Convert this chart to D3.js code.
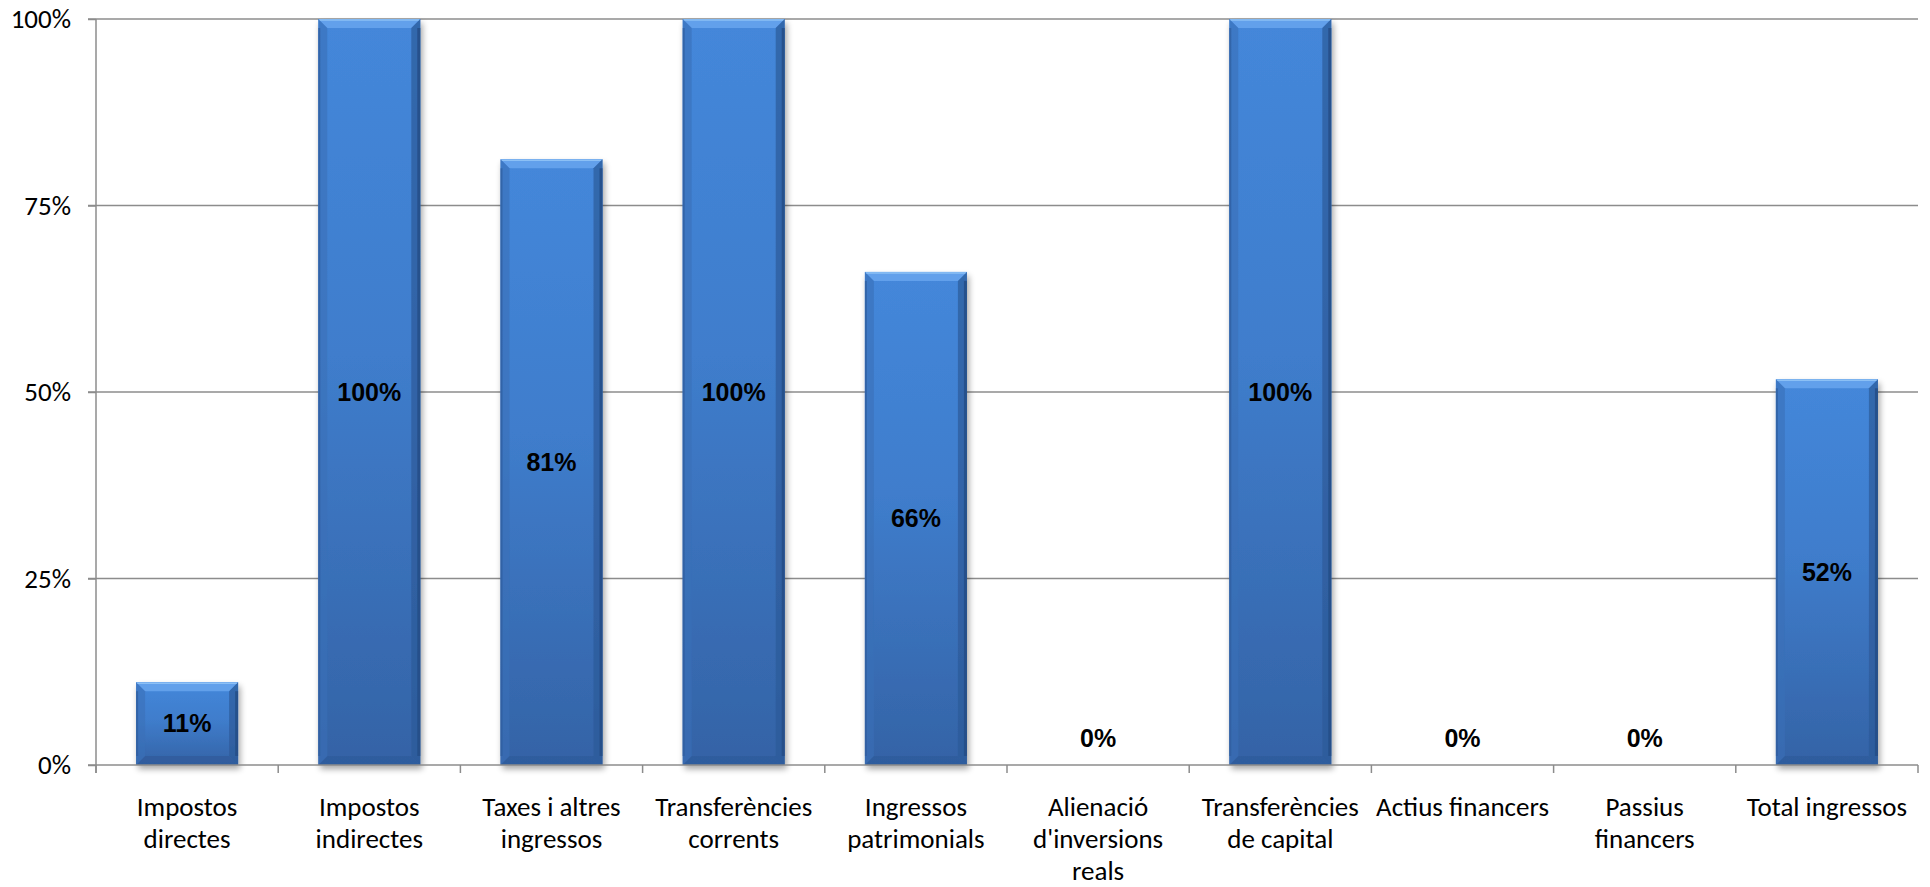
<!DOCTYPE html>
<html><head><meta charset="utf-8">
<script src="https://cdn.jsdelivr.net/npm/d3@7"></script>
<style>
html,body{margin:0;padding:0;background:#fff;}
svg{display:block;}
</style></head>
<body>
<svg id="chart" width="1930" height="887"></svg>
<script>
const categories = [
  ["Impostos","directes"],
  ["Impostos","indirectes"],
  ["Taxes i altres","ingressos"],
  ["Transferències","corrents"],
  ["Ingressos","patrimonials"],
  ["Alienació","d'inversions","reals"],
  ["Transferències","de capital"],
  ["Actius financers"],
  ["Passius","financers"],
  ["Total ingressos"]
];
const values = [0.111, 1.0, 0.812, 1.0, 0.661, 0, 1.0, 0, 0, 0.517];
const yTicks = [0, 0.25, 0.5, 0.75, 1.0];

const svg = d3.select("#chart");
const margin = {left: 96, right: 12, top: 19, bottom: 122};
const W = 1930, H = 887;
const x0 = margin.left, x1 = W - margin.right, yTop = margin.top, yBot = H - margin.bottom;

const catKeys = categories.map((c,i)=>i);
const x = d3.scaleBand().domain(catKeys).range([x0, x1]).paddingInner(0.44).paddingOuter(0.22);
const y = d3.scaleLinear().domain([0,1]).range([yBot, yTop]);

const defs = svg.append("defs");
const g1 = defs.append("linearGradient").attr("id","barGrad").attr("x1",0).attr("y1",0).attr("x2",0).attr("y2",1);
g1.append("stop").attr("offset","0%").attr("stop-color","#4487da");
g1.append("stop").attr("offset","45%").attr("stop-color","#3f7dcc");
g1.append("stop").attr("offset","100%").attr("stop-color","#3463a6");
const sh = defs.append("filter").attr("id","shadow").attr("x","-20%").attr("y","-10%").attr("width","140%").attr("height","130%");
sh.append("feGaussianBlur").attr("in","SourceAlpha").attr("stdDeviation",3).attr("result","b");
sh.append("feOffset").attr("in","b").attr("dx",2).attr("dy",4).attr("result","o");
sh.append("feComponentTransfer").attr("in","o").attr("result","o2").append("feFuncA").attr("type","linear").attr("slope",0.35);
const mg = sh.append("feMerge");
mg.append("feMergeNode").attr("in","o2");
mg.append("feMergeNode").attr("in","SourceGraphic");

// gridlines
const grid = svg.append("g");
grid.selectAll("line").data(yTicks.filter(d=>d>0)).join("line")
  .attr("x1", x0 - 8).attr("x2", x1)
  .attr("y1", d=>y(d)).attr("y2", d=>y(d))
  .attr("stroke","#8c8c8c").attr("stroke-width",1.5);

// y axis
const yAxis = d3.axisLeft(y).tickValues(yTicks).tickFormat(d3.format(".0%")).tickSize(8).tickPadding(17);
const ya = svg.append("g").attr("transform",`translate(${x0},0)`).call(yAxis);
ya.select(".domain").remove();
ya.selectAll(".tick line").attr("stroke","#8c8c8c").attr("stroke-width",1.5);
ya.selectAll(".tick text").attr("font-family","Carlito, Calibri, Lato, sans-serif").attr("font-size",27).attr("fill","#000");

// bars
const bev = 9, side = 3;
const bars = svg.append("g");
values.forEach((v,i)=>{
  if (v <= 0) return;
  const bx = x(i), bw = x.bandwidth(), by = y(v), bh = y(0) - y(v);
  const gb = bars.append("g").attr("filter","url(#shadow)");
  gb.append("rect").attr("x",bx).attr("y",by).attr("width",bw).attr("height",bh).attr("fill","url(#barGrad)");
  const tb = Math.min(bev, bh/2);
  gb.append("polygon").attr("points",[[bx,by],[bx+bw,by],[bx+bw-tb,by+tb],[bx+tb,by+tb]].map(p=>p.join(",")).join(" "))
    .attr("fill","#66a3ec").attr("opacity",0.9);
  gb.append("line").attr("x1",bx+1).attr("x2",bx+bw-1).attr("y1",by+1).attr("y2",by+1).attr("stroke","#8cc0f5").attr("stroke-width",1.5);
  gb.append("polygon").attr("points",[[bx,by+bh],[bx+bw,by+bh],[bx+bw-tb,by+bh-tb],[bx+tb,by+bh-tb]].map(p=>p.join(",")).join(" "))
    .attr("fill","#2f5c9c").attr("opacity",0.85);
  gb.append("polygon").attr("points",[[bx,by],[bx+tb,by+tb],[bx+tb,by+bh-tb],[bx,by+bh]].map(p=>p.join(",")).join(" "))
    .attr("fill","#3a70b8").attr("opacity",0.6);
  gb.append("polygon").attr("points",[[bx+bw,by],[bx+bw-tb,by+tb],[bx+bw-tb,by+bh-tb],[bx+bw,by+bh]].map(p=>p.join(",")).join(" "))
    .attr("fill","#2c5a98").attr("opacity",0.7);
  gb.append("rect").attr("x",bx+bw-side).attr("y",by+tb).attr("width",side).attr("height",bh-2*tb).attr("fill","#234c85").attr("opacity",0.8);
  gb.append("rect").attr("x",bx).attr("y",by+tb).attr("width",2).attr("height",bh-2*tb).attr("fill","#2d5c9c").attr("opacity",0.7);
});

// x axis
svg.append("line").attr("x1",x0-8).attr("x2",x1).attr("y1",y(0)).attr("y2",y(0)).attr("stroke","#8c8c8c").attr("stroke-width",1.5);
svg.append("line").attr("x1",x0).attr("x2",x0).attr("y1",yTop).attr("y2",y(0)+8).attr("stroke","#8c8c8c").attr("stroke-width",1.5);
const step = x.step();
const bounds = d3.range(categories.length+1).map(k=>x0 + k*step);
svg.append("g").selectAll("line").data(bounds).join("line")
  .attr("x1",d=>d).attr("x2",d=>d).attr("y1",y(0)).attr("y2",y(0)+8)
  .attr("stroke","#8c8c8c").attr("stroke-width",1.5);

// category labels
const cl = svg.append("g").attr("font-family","Carlito, Calibri, Lato, sans-serif").attr("font-size",27).attr("fill","#000").attr("text-anchor","middle");
categories.forEach((lines,i)=>{
  const cx = x(i) + x.bandwidth()/2;
  const t = cl.append("text").attr("x",cx).attr("y",y(0)+51);
  lines.forEach((ln,k)=>t.append("tspan").attr("x",cx).attr("dy",k===0?0:32).text(ln));
});

// data labels
const fmt = d3.format(".0%");
svg.append("g").selectAll("text").data(values).join("text")
  .attr("x",(d,i)=>x(i)+x.bandwidth()/2)
  .attr("y",d=> d>0 ? (y(d)+y(0))/2 : y(0)-27)
  .attr("dy","0.35em")
  .attr("text-anchor","middle")
  .attr("font-family","'Liberation Sans', Arial, sans-serif")
  .attr("font-weight","bold").attr("font-size",25).attr("fill","#000")
  .text(d=>fmt(d));
</script>
</body></html>
